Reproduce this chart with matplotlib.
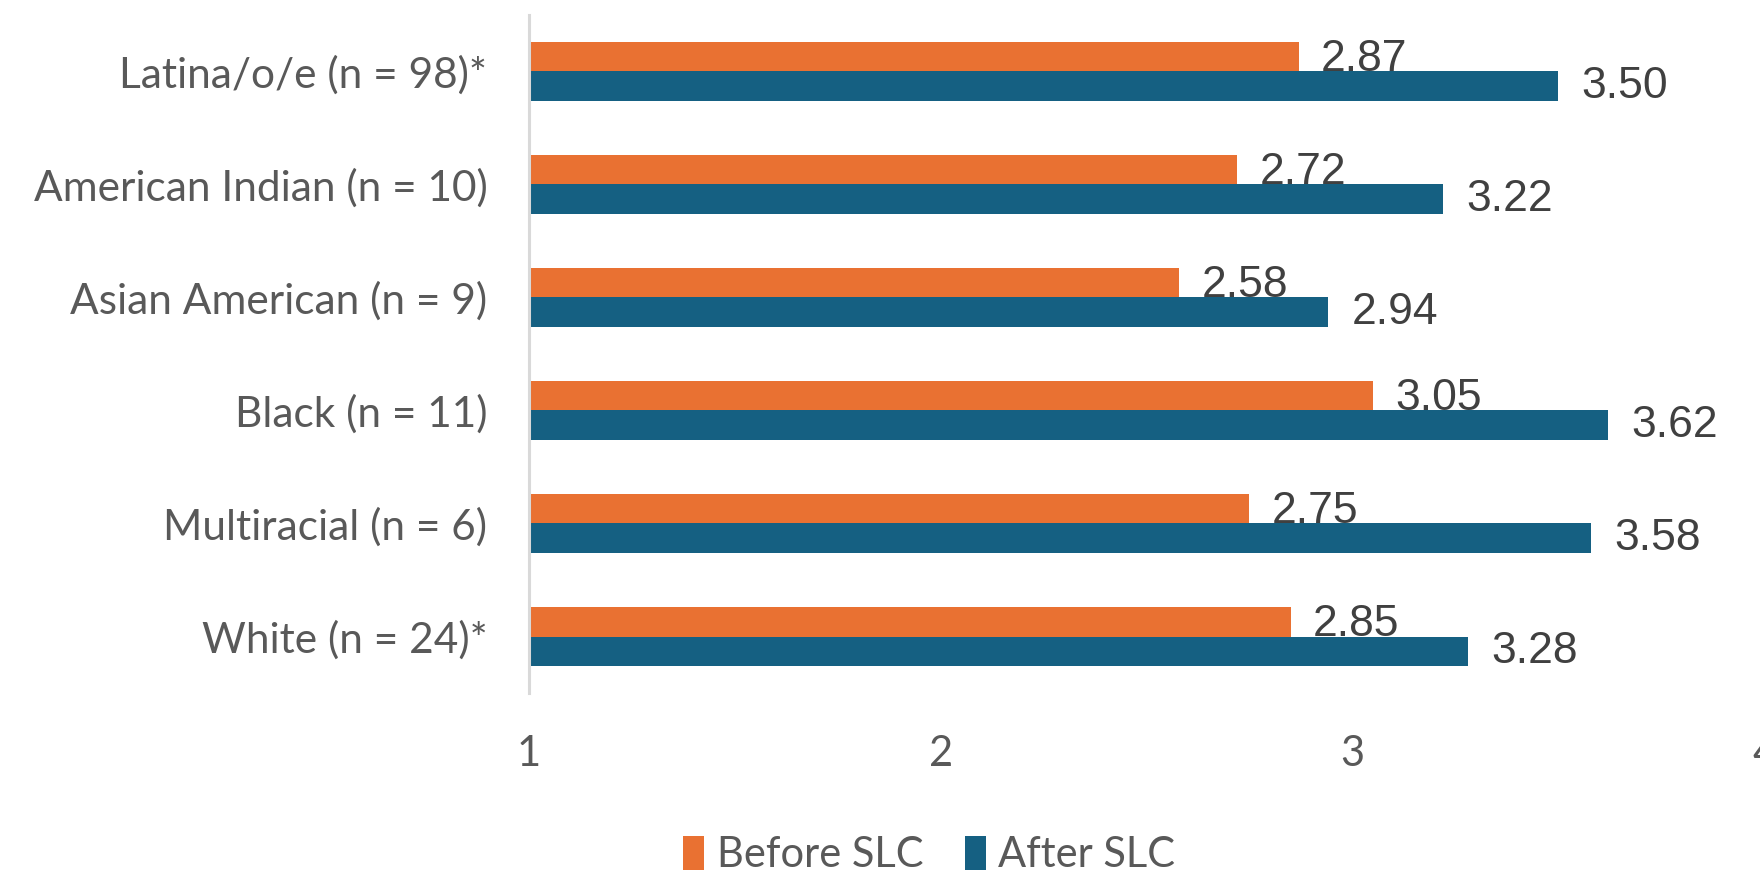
import numpy as np
import matplotlib
matplotlib.use("Agg")
import matplotlib.pyplot as plt

# ----- data -----
groups = ["Latina/o/e (n = 98)*", "American Indian (n = 10)", "Asian American (n = 9)",
          "Black (n = 11)", "Multiracial (n = 6)", "White (n = 24)*"]
before_slc = [2.87, 2.72, 2.58, 3.05, 2.75, 2.85]
after_slc = [3.50, 3.22, 2.94, 3.62, 3.58, 3.28]
x_ticks = [1, 2, 3, 4]

c_before = "#E97132"
c_after = "#156082"
c_text = "#595959"
c_value = "#404040"

fig = plt.figure(figsize=(17.6, 8.76), dpi=100)
ax = fig.add_axes([0.3006, 0.2089, 0.7017, 0.7740])

y = np.arange(len(groups))
h = 0.26
ax.barh(y - h / 2, before_slc, height=h, color=c_before, label="Before SLC")
ax.barh(y + h / 2, after_slc, height=h, color=c_after, label="After SLC")

# value labels
for i in range(len(groups)):
    ax.annotate(f"{before_slc[i]:.2f}", (before_slc[i], y[i] - h / 2), xytext=(16, -2),
                textcoords="offset points", va="center", ha="left",
                fontsize=32, color=c_value, family="Liberation Sans")
    ax.annotate(f"{after_slc[i]:.2f}", (after_slc[i], y[i] + h / 2), xytext=(17, 0),
                textcoords="offset points", va="center", ha="left",
                fontsize=32, color=c_value, family="Liberation Sans")

ax.set_xlim(1, 4)
ax.set_ylim(len(groups) - 0.5, -0.5)
ax.set_yticks(y)
ax.set_yticklabels(groups, fontsize=30.5, color=c_text, family="Lato")
ax.set_xticks(x_ticks)
ax.set_xticklabels([str(t) for t in x_ticks], fontsize=30, color=c_text, family="Lato")
ax.tick_params(axis="y", length=0, pad=30)
ax.tick_params(axis="x", length=0, pad=30)

for s in ["top", "right", "bottom"]:
    ax.spines[s].set_visible(False)
ax.spines["left"].set_color("#D9D9D9")
ax.spines["left"].set_linewidth(2.2)

leg = fig.legend(loc="center", bbox_to_anchor=(0.528, 0.024), ncol=2, frameon=False,
                 prop={"family": "Lato", "size": 30}, handlelength=0.5, handleheight=0.9,
                 handletextpad=0.3, columnspacing=1.0, labelcolor=c_text)

fig.savefig("out.png", dpi=100)
